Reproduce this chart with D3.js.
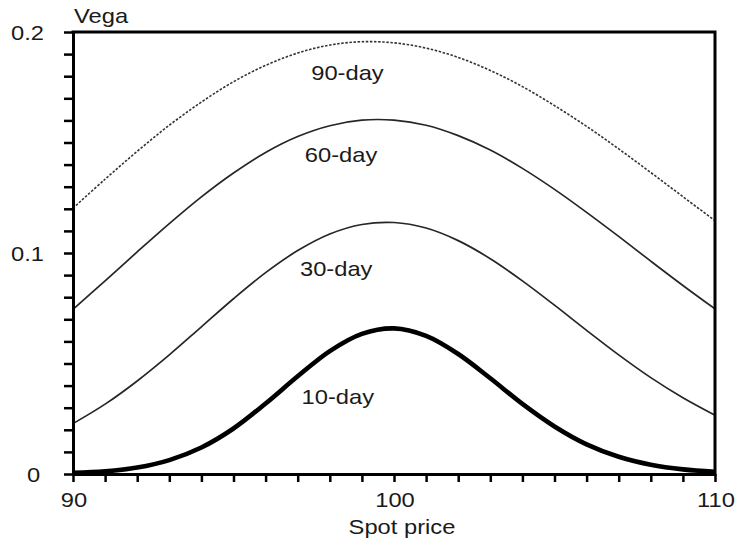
<!DOCTYPE html>
<html>
<head>
<meta charset="utf-8">
<script src="https://cdn.jsdelivr.net/npm/d3@7"></script>
<style>
  html, body { margin: 0; padding: 0; background: #fff; }
  svg { display: block; }
  text { font-family: "Liberation Sans", Arial, Helvetica, sans-serif; fill: #1a1a1a; }
</style>
</head>
<body>
<svg id="chart" width="737" height="546"></svg>
<script>
// ---- Data ----
const spotPrices = [90,91,92,93,94,95,96,97,98,99,100,101,102,103,104,105,106,107,108,109,110];

const vega10 = [0.0005,0.0012,0.0029,0.0063,0.0120,0.0206,0.0319,0.0442,0.0556,0.0634,0.0659,0.0625,0.0543,0.0433,0.0317,0.0215,0.0134,0.0078,0.0042,0.0021,0.0010];
const vega30 = [0.0228,0.0316,0.0421,0.0539,0.0666,0.0793,0.0911,0.1011,0.1086,0.1129,0.1138,0.1113,0.1056,0.0974,0.0874,0.0764,0.0650,0.0539,0.0436,0.0345,0.0266];
const vega60 = [0.0745,0.0874,0.1005,0.1133,0.1254,0.1362,0.1455,0.1527,0.1576,0.1601,0.1601,0.1578,0.1531,0.1466,0.1383,0.1288,0.1184,0.1075,0.0963,0.0853,0.0747];
const vega90 = [0.1203,0.1334,0.1460,0.1578,0.1683,0.1775,0.1849,0.1905,0.1941,0.1956,0.1951,0.1927,0.1885,0.1826,0.1753,0.1667,0.1573,0.1471,0.1364,0.1255,0.1146];

const seriesNames = ["90-day","60-day","30-day","10-day"];
const seriesValues = [vega90, vega60, vega30, vega10];
// label anchor points in data units (spot price, vega)
const labelSpot = [98.55, 98.35, 98.2, 98.25];
const labelVega = [0.1785, 0.1410, 0.0895, 0.0317];

const xTickLabels = [90, 100, 110];
const yTickLabels = [0, 0.1, 0.2];
const yAxisTitle = "Vega";
const xAxisTitle = "Spot price";

// ---- Layout ----
const svg = d3.select("#chart");
const mLeft = 73, mRight = 715, mTop = 32, mBottom = 474;
const FS = 21, SX = 1.13;

const x = d3.scaleLinear().domain([90, 110]).range([mLeft, mRight]);
const y = d3.scaleLinear().domain([0, 0.2]).range([mBottom, mTop]);

function stretchedText(g, tx, ty, str, anchor) {
  g.append("g")
    .attr("transform", `translate(${tx},${ty}) scale(${SX},1)`)
    .append("text")
    .attr("text-anchor", anchor)
    .attr("font-size", FS)
    .text(str);
}

// clip for curves
svg.append("defs").append("clipPath").attr("id", "plotclip")
  .append("rect").attr("x", mLeft).attr("y", mTop - 2)
  .attr("width", mRight - mLeft).attr("height", mBottom - mTop + 1);

// ---- Curves ----
const line = d3.line()
  .x((d, i) => x(spotPrices[i]))
  .y(d => y(d))
  .curve(d3.curveCatmullRom.alpha(0.5));

const styles = [
  { stroke: "#333", width: 1.6, dash: "2.5,1.6" },
  { stroke: "#262626", width: 1.7, dash: null },
  { stroke: "#262626", width: 1.7, dash: null },
  { stroke: "#000", width: 4.6, dash: null }
];

const curves = svg.append("g").attr("clip-path", "url(#plotclip)");
seriesValues.forEach((vals, k) => {
  curves.append("path")
    .datum(vals)
    .attr("fill", "none")
    .attr("stroke", styles[k].stroke)
    .attr("stroke-width", styles[k].width)
    .attr("stroke-dasharray", styles[k].dash)
    .attr("stroke-linejoin", "round")
    .attr("d", line);
});

// ---- Curve labels ----
seriesNames.forEach((name, k) => {
  stretchedText(svg, x(labelSpot[k]), y(labelVega[k]), name, "middle");
});

// ---- Axes ----
const xAxis = d3.axisBottom(x)
  .tickValues(d3.range(90, 111, 1))
  .tickSize(8)
  .tickSizeOuter(0)
  .tickFormat("");
const gx = svg.append("g").attr("transform", `translate(0,${mBottom})`).call(xAxis);
gx.select(".domain").attr("stroke", "#000").attr("stroke-width", 3);
gx.selectAll(".tick line").attr("stroke", "#000").attr("stroke-width", 2.5);

const yAxis = d3.axisLeft(y)
  .tickValues(d3.range(0, 21).map(i => i / 100))
  .tickSize(9)
  .tickSizeOuter(0)
  .tickFormat("");
const gy = svg.append("g").attr("transform", `translate(${mLeft},0)`).call(yAxis);
gy.select(".domain").attr("stroke", "#000").attr("stroke-width", 3);
gy.selectAll(".tick line").attr("stroke", "#000").attr("stroke-width", 2.5);

// frame top & right
svg.append("path")
  .attr("d", `M${mLeft - 1.5},${mTop} H${mRight} V${mBottom + 1.5}`)
  .attr("fill", "none").attr("stroke", "#000").attr("stroke-width", 3);

// tick labels
xTickLabels.forEach(v => stretchedText(svg, x(v) + 1, mBottom + 33, String(v), "middle"));
yTickLabels.forEach(v => stretchedText(svg, v === 0 ? 27 : 11, y(v) + 8, String(v), "start"));

// titles
stretchedText(svg, 74, 23, yAxisTitle, "start");
stretchedText(svg, 402, 534, xAxisTitle, "middle");
</script>
</body>
</html>
